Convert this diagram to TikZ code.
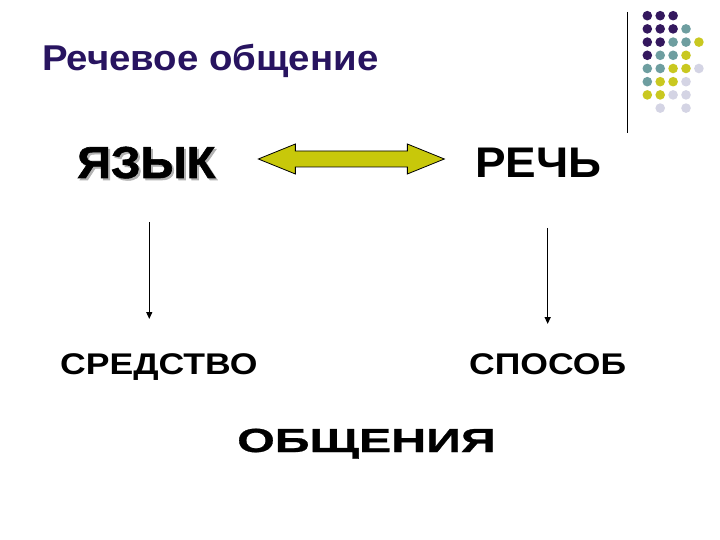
\documentclass[tikz,border=0pt]{standalone}
\usepackage{fontspec}
\setmainfont{Liberation Sans}
\newfontfamily\headfont[FakeStretch=1.07]{Liberation Sans}
\newfontfamily\topfont[FakeStretch=1.05,BoldFeatures={FakeBold=1.4}]{Liberation Sans}
\newfontfamily\rightfont[FakeStretch=1.07]{Liberation Sans}
\newfontfamily\lowfont[FakeStretch=1.19]{Liberation Sans}
\newfontfamily\wordfont[FakeStretch=1.45,BoldFeatures={FakeBold=0.8}]{Liberation Sans}
\usetikzlibrary{arrows.meta}

\definecolor{titleblue}{RGB}{40,20,96}
\definecolor{dotpurple}{RGB}{52,24,94}
\definecolor{dotteal}{RGB}{110,158,160}
\definecolor{dotyellow}{RGB}{201,200,32}
\definecolor{dotlight}{RGB}{212,212,228}
\definecolor{arrowfill}{RGB}{200,200,10}

\tikzset{
  txt/.style={inner sep=0pt, anchor=base west},
  dotP/.style={fill=dotpurple},
  dotT/.style={fill=dotteal},
  dotY/.style={fill=dotyellow},
  dotL/.style={fill=dotlight},
  dotN/.style={fill=none},
  downarr/.style={line width=1.3bp, -{Triangle[length=7bp,width=6bp]}},
  dblarr/.style={draw=black, line width=0.8bp, fill=arrowfill, line join=miter}
}

\begin{document}
\begin{tikzpicture}[x=1bp, y=-1bp]
  \useasboundingbox[fill=white] (0,0) rectangle (720,540);

  % corner pattern
  \coordinate (ruletop) at (627,12);
  \coordinate (rulebot) at (627,133);
  \draw[line width=0.9bp] (ruletop) -- (rulebot);
  \foreach \cols [count=\r from 0] in {{P,P,P},{P,P,P,T},{P,P,T,T,Y},{P,T,T,Y},{T,T,Y,Y,L},{T,Y,Y,L},{Y,Y,L,L},{N,L,N,L}}
    \foreach \k [count=\c from 0] in \cols
      \fill[dot\k] (647.3+12.9*\c, 15.7+13.2*\r) circle[radius=4.8];

  % title
  \node[txt, text=titleblue, font=\headfont\bfseries\fontsize{36}{40}\selectfont] (title) at (42,71) {Речевое общение};

  % words
  \node[txt, text=black!30, font=\topfont\bfseries\fontsize{45}{50}\selectfont] (yazykshadow) at (79,180) {ЯЗЫК};
  \node[txt, font=\topfont\bfseries\fontsize{45}{50}\selectfont] (yazyk) at (77,178) {ЯЗЫК};
  \node[txt, font=\rightfont\bfseries\fontsize{43}{48}\selectfont] (rech) at (475,178) {РЕЧЬ};
  \node[txt, font=\lowfont\bfseries\fontsize{30}{34}\selectfont] (sredstvo) at (60,374) {СРЕДСТВО};
  \node[txt, font=\lowfont\bfseries\fontsize{30}{34}\selectfont] (sposob) at (469,374) {СПОСОБ};
  \node[txt, font=\wordfont\bfseries\fontsize{33.5}{38}\selectfont] (obshch) at (237,452) {ОБЩЕНИЯ};

  % double arrow
  \coordinate (link) at (351,159);
  \draw[dblarr] ([xshift=-93]link) -- ++(37,-15) -- ++(0,7) -- ++(112,0) -- ++(0,-7)
    -- ++(37,15) -- ++(-37,15) -- ++(0,-7) -- ++(-112,0) -- ++(0,7) -- cycle;

  % down arrows
  \draw[downarr] ([xshift=3bp]yazyk.south |- 0,222) -- ([xshift=3bp]yazyk.south |- 0,319);
  \draw[downarr] (sposob.north |- 0,228) -- (sposob.north |- 0,324);
\end{tikzpicture}
\end{document}
